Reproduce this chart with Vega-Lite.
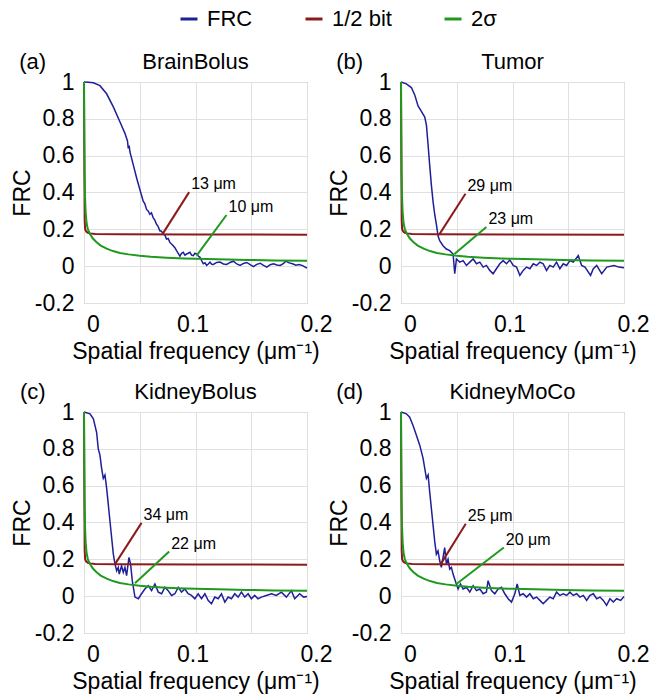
{
  "$schema": "https://vega.github.io/schema/vega-lite/v6.json",
  "padding": {"left": 10, "top": 8, "right": 0, "bottom": 0},
  "datasets": {
    "frc": [
      {"p":"a","s":"FRC","f":0,"v":1},{"p":"a","s":"FRC","f":0.004,"v":0.999},{"p":"a","s":"FRC","f":0.0084,"v":0.996},{"p":"a","s":"FRC","f":0.0143,"v":0.98},{"p":"a","s":"FRC","f":0.0203,"v":0.936},{"p":"a","s":"FRC","f":0.0263,"v":0.865},{"p":"a","s":"FRC","f":0.0322,"v":0.784},{"p":"a","s":"FRC","f":0.0367,"v":0.721},{"p":"a","s":"FRC","f":0.039,"v":0.68},{"p":"a","s":"FRC","f":0.0397,"v":0.64},{"p":"a","s":"FRC","f":0.0405,"v":0.655},{"p":"a","s":"FRC","f":0.0412,"v":0.62},{"p":"a","s":"FRC","f":0.0442,"v":0.55},{"p":"a","s":"FRC","f":0.0472,"v":0.479},{"p":"a","s":"FRC","f":0.0501,"v":0.416},{"p":"a","s":"FRC","f":0.0531,"v":0.353},{"p":"a","s":"FRC","f":0.0545,"v":0.34},{"p":"a","s":"FRC","f":0.0561,"v":0.308},{"p":"a","s":"FRC","f":0.0575,"v":0.3},{"p":"a","s":"FRC","f":0.0591,"v":0.282},{"p":"a","s":"FRC","f":0.0605,"v":0.29},{"p":"a","s":"FRC","f":0.062,"v":0.264},{"p":"a","s":"FRC","f":0.0635,"v":0.25},{"p":"a","s":"FRC","f":0.065,"v":0.228},{"p":"a","s":"FRC","f":0.0665,"v":0.215},{"p":"a","s":"FRC","f":0.068,"v":0.192},{"p":"a","s":"FRC","f":0.0695,"v":0.19},{"p":"a","s":"FRC","f":0.071,"v":0.174},{"p":"a","s":"FRC","f":0.0725,"v":0.17},{"p":"a","s":"FRC","f":0.074,"v":0.147},{"p":"a","s":"FRC","f":0.0755,"v":0.15},{"p":"a","s":"FRC","f":0.077,"v":0.129},{"p":"a","s":"FRC","f":0.0785,"v":0.12},{"p":"a","s":"FRC","f":0.08,"v":0.111},{"p":"a","s":"FRC","f":0.0815,"v":0.1},{"p":"a","s":"FRC","f":0.083,"v":0.084},{"p":"a","s":"FRC","f":0.0845,"v":0.07},{"p":"a","s":"FRC","f":0.086,"v":0.054},{"p":"a","s":"FRC","f":0.0875,"v":0.07},{"p":"a","s":"FRC","f":0.089,"v":0.075},{"p":"a","s":"FRC","f":0.0905,"v":0.06},{"p":"a","s":"FRC","f":0.092,"v":0.066},{"p":"a","s":"FRC","f":0.0935,"v":0.07},{"p":"a","s":"FRC","f":0.095,"v":0.075},{"p":"a","s":"FRC","f":0.0965,"v":0.06},{"p":"a","s":"FRC","f":0.098,"v":0.057},{"p":"a","s":"FRC","f":0.0995,"v":0.07},{"p":"a","s":"FRC","f":0.101,"v":0.066},{"p":"a","s":"FRC","f":0.1025,"v":0.055},{"p":"a","s":"FRC","f":0.104,"v":0.048},{"p":"a","s":"FRC","f":0.1055,"v":0.03},{"p":"a","s":"FRC","f":0.107,"v":0.013},{"p":"a","s":"FRC","f":0.1085,"v":0.018},{"p":"a","s":"FRC","f":0.11,"v":0.004},{"p":"a","s":"FRC","f":0.1115,"v":0.012},{"p":"a","s":"FRC","f":0.113,"v":0.022},{"p":"a","s":"FRC","f":0.1145,"v":0.01},{"p":"a","s":"FRC","f":0.116,"v":0.009},{"p":"a","s":"FRC","f":0.119,"v":0.02},{"p":"a","s":"FRC","f":0.122,"v":0.022},{"p":"a","s":"FRC","f":0.125,"v":0.012},{"p":"a","s":"FRC","f":0.128,"v":0.009},{"p":"a","s":"FRC","f":0.131,"v":0.02},{"p":"a","s":"FRC","f":0.134,"v":0.027},{"p":"a","s":"FRC","f":0.137,"v":0.012},{"p":"a","s":"FRC","f":0.14,"v":0.004},{"p":"a","s":"FRC","f":0.143,"v":0.015},{"p":"a","s":"FRC","f":0.146,"v":0.02},{"p":"a","s":"FRC","f":0.149,"v":0.008},{"p":"a","s":"FRC","f":0.152,"v":-0.002},{"p":"a","s":"FRC","f":0.155,"v":0.01},{"p":"a","s":"FRC","f":0.158,"v":0.016},{"p":"a","s":"FRC","f":0.161,"v":0.004},{"p":"a","s":"FRC","f":0.164,"v":-0.005},{"p":"a","s":"FRC","f":0.167,"v":0.008},{"p":"a","s":"FRC","f":0.17,"v":0.013},{"p":"a","s":"FRC","f":0.173,"v":0.006},{"p":"a","s":"FRC","f":0.176,"v":0.004},{"p":"a","s":"FRC","f":0.179,"v":0.015},{"p":"a","s":"FRC","f":0.181,"v":0.027},{"p":"a","s":"FRC","f":0.184,"v":0.018},{"p":"a","s":"FRC","f":0.187,"v":0.013},{"p":"a","s":"FRC","f":0.19,"v":0.005},{"p":"a","s":"FRC","f":0.193,"v":0.009},{"p":"a","s":"FRC","f":0.196,"v":0.003},{"p":"a","s":"FRC","f":0.2,"v":-0.011},

      {"p":"b","s":"FRC","f":0,"v":1},{"p":"b","s":"FRC","f":0.0048,"v":0.99},{"p":"b","s":"FRC","f":0.0093,"v":0.97},{"p":"b","s":"FRC","f":0.0123,"v":0.93},{"p":"b","s":"FRC","f":0.0153,"v":0.87},{"p":"b","s":"FRC","f":0.0183,"v":0.84},{"p":"b","s":"FRC","f":0.0213,"v":0.81},{"p":"b","s":"FRC","f":0.0228,"v":0.766},{"p":"b","s":"FRC","f":0.0243,"v":0.658},{"p":"b","s":"FRC","f":0.0257,"v":0.55},{"p":"b","s":"FRC","f":0.0272,"v":0.443},{"p":"b","s":"FRC","f":0.0287,"v":0.353},{"p":"b","s":"FRC","f":0.0302,"v":0.282},{"p":"b","s":"FRC","f":0.0317,"v":0.228},{"p":"b","s":"FRC","f":0.0332,"v":0.165},{"p":"b","s":"FRC","f":0.0347,"v":0.138},{"p":"b","s":"FRC","f":0.0377,"v":0.111},{"p":"b","s":"FRC","f":0.0407,"v":0.093},{"p":"b","s":"FRC","f":0.0437,"v":0.084},{"p":"b","s":"FRC","f":0.0467,"v":0.066},{"p":"b","s":"FRC","f":0.0482,"v":-0.041},{"p":"b","s":"FRC","f":0.0497,"v":0.039},{"p":"b","s":"FRC","f":0.0527,"v":0.022},{"p":"b","s":"FRC","f":0.0557,"v":0.03},{"p":"b","s":"FRC","f":0.0587,"v":0.004},{"p":"b","s":"FRC","f":0.0617,"v":0.022},{"p":"b","s":"FRC","f":0.0647,"v":0.039},{"p":"b","s":"FRC","f":0.0677,"v":0.013},{"p":"b","s":"FRC","f":0.0707,"v":0.022},{"p":"b","s":"FRC","f":0.0737,"v":-0.005},{"p":"b","s":"FRC","f":0.0766,"v":0.004},{"p":"b","s":"FRC","f":0.0796,"v":-0.023},{"p":"b","s":"FRC","f":0.0826,"v":-0.041},{"p":"b","s":"FRC","f":0.0856,"v":-0.014},{"p":"b","s":"FRC","f":0.0886,"v":0.013},{"p":"b","s":"FRC","f":0.0916,"v":0.03},{"p":"b","s":"FRC","f":0.0946,"v":0.013},{"p":"b","s":"FRC","f":0.0976,"v":0.034},{"p":"b","s":"FRC","f":0.1006,"v":0.004},{"p":"b","s":"FRC","f":0.1036,"v":-0.005},{"p":"b","s":"FRC","f":0.1066,"v":-0.05},{"p":"b","s":"FRC","f":0.1096,"v":-0.023},{"p":"b","s":"FRC","f":0.1126,"v":-0.005},{"p":"b","s":"FRC","f":0.1156,"v":-0.014},{"p":"b","s":"FRC","f":0.1186,"v":0.013},{"p":"b","s":"FRC","f":0.1216,"v":0.004},{"p":"b","s":"FRC","f":0.1246,"v":0.022},{"p":"b","s":"FRC","f":0.1275,"v":0.013},{"p":"b","s":"FRC","f":0.1305,"v":-0.023},{"p":"b","s":"FRC","f":0.1335,"v":0.004},{"p":"b","s":"FRC","f":0.1365,"v":-0.005},{"p":"b","s":"FRC","f":0.1395,"v":0.022},{"p":"b","s":"FRC","f":0.1425,"v":-0.014},{"p":"b","s":"FRC","f":0.1455,"v":0.013},{"p":"b","s":"FRC","f":0.1485,"v":0.004},{"p":"b","s":"FRC","f":0.1515,"v":0.03},{"p":"b","s":"FRC","f":0.1545,"v":0.022},{"p":"b","s":"FRC","f":0.159,"v":0.057},{"p":"b","s":"FRC","f":0.162,"v":0.004},{"p":"b","s":"FRC","f":0.165,"v":-0.005},{"p":"b","s":"FRC","f":0.17,"v":-0.05},{"p":"b","s":"FRC","f":0.1725,"v":-0.014},{"p":"b","s":"FRC","f":0.1755,"v":0.004},{"p":"b","s":"FRC","f":0.18,"v":-0.041},{"p":"b","s":"FRC","f":0.1845,"v":-0.005},{"p":"b","s":"FRC","f":0.191,"v":0.004},{"p":"b","s":"FRC","f":0.1955,"v":-0.005},{"p":"b","s":"FRC","f":0.2,"v":-0.009},

      {"p":"c","s":"FRC","f":0,"v":1},{"p":"c","s":"FRC","f":0.0054,"v":0.99},{"p":"c","s":"FRC","f":0.0084,"v":0.963},{"p":"c","s":"FRC","f":0.0113,"v":0.89},{"p":"c","s":"FRC","f":0.0128,"v":0.8},{"p":"c","s":"FRC","f":0.0143,"v":0.766},{"p":"c","s":"FRC","f":0.0158,"v":0.694},{"p":"c","s":"FRC","f":0.0173,"v":0.64},{"p":"c","s":"FRC","f":0.0188,"v":0.658},{"p":"c","s":"FRC","f":0.0203,"v":0.587},{"p":"c","s":"FRC","f":0.0218,"v":0.497},{"p":"c","s":"FRC","f":0.0233,"v":0.407},{"p":"c","s":"FRC","f":0.0248,"v":0.317},{"p":"c","s":"FRC","f":0.0263,"v":0.228},{"p":"c","s":"FRC","f":0.0278,"v":0.174},{"p":"c","s":"FRC","f":0.0293,"v":0.138},{"p":"c","s":"FRC","f":0.0307,"v":0.156},{"p":"c","s":"FRC","f":0.0316,"v":0.12},{"p":"c","s":"FRC","f":0.0337,"v":0.165},{"p":"c","s":"FRC","f":0.0352,"v":0.129},{"p":"c","s":"FRC","f":0.0367,"v":0.156},{"p":"c","s":"FRC","f":0.0382,"v":0.111},{"p":"c","s":"FRC","f":0.0403,"v":0.21},{"p":"c","s":"FRC","f":0.0418,"v":0.174},{"p":"c","s":"FRC","f":0.0433,"v":0.084},{"p":"c","s":"FRC","f":0.0457,"v":-0.005},{"p":"c","s":"FRC","f":0.0487,"v":-0.014},{"p":"c","s":"FRC","f":0.0516,"v":0.013},{"p":"c","s":"FRC","f":0.0546,"v":0.039},{"p":"c","s":"FRC","f":0.0576,"v":0.057},{"p":"c","s":"FRC","f":0.0606,"v":0.03},{"p":"c","s":"FRC","f":0.0636,"v":0.066},{"p":"c","s":"FRC","f":0.0666,"v":0.022},{"p":"c","s":"FRC","f":0.0696,"v":0.013},{"p":"c","s":"FRC","f":0.0725,"v":0.048},{"p":"c","s":"FRC","f":0.0755,"v":0.03},{"p":"c","s":"FRC","f":0.0785,"v":0.004},{"p":"c","s":"FRC","f":0.0815,"v":0.013},{"p":"c","s":"FRC","f":0.0845,"v":0.048},{"p":"c","s":"FRC","f":0.0875,"v":0.022},{"p":"c","s":"FRC","f":0.0904,"v":0.039},{"p":"c","s":"FRC","f":0.0934,"v":0.013},{"p":"c","s":"FRC","f":0.0964,"v":0.004},{"p":"c","s":"FRC","f":0.0994,"v":-0.014},{"p":"c","s":"FRC","f":0.1024,"v":0.013},{"p":"c","s":"FRC","f":0.1054,"v":-0.014},{"p":"c","s":"FRC","f":0.1084,"v":0.013},{"p":"c","s":"FRC","f":0.1113,"v":-0.023},{"p":"c","s":"FRC","f":0.1143,"v":-0.041},{"p":"c","s":"FRC","f":0.1173,"v":-0.005},{"p":"c","s":"FRC","f":0.1203,"v":-0.014},{"p":"c","s":"FRC","f":0.1233,"v":0.013},{"p":"c","s":"FRC","f":0.1263,"v":-0.032},{"p":"c","s":"FRC","f":0.1293,"v":-0.005},{"p":"c","s":"FRC","f":0.1322,"v":-0.014},{"p":"c","s":"FRC","f":0.1352,"v":0.013},{"p":"c","s":"FRC","f":0.1382,"v":-0.005},{"p":"c","s":"FRC","f":0.1412,"v":0.022},{"p":"c","s":"FRC","f":0.1442,"v":-0.005},{"p":"c","s":"FRC","f":0.1472,"v":0.013},{"p":"c","s":"FRC","f":0.1501,"v":-0.014},{"p":"c","s":"FRC","f":0.1531,"v":0.004},{"p":"c","s":"FRC","f":0.1561,"v":-0.014},{"p":"c","s":"FRC","f":0.1591,"v":-0.005},{"p":"c","s":"FRC","f":0.1636,"v":0.004},{"p":"c","s":"FRC","f":0.1681,"v":0.013},{"p":"c","s":"FRC","f":0.1725,"v":0.004},{"p":"c","s":"FRC","f":0.177,"v":0.022},{"p":"c","s":"FRC","f":0.1815,"v":-0.005},{"p":"c","s":"FRC","f":0.186,"v":0.03},{"p":"c","s":"FRC","f":0.189,"v":-0.014},{"p":"c","s":"FRC","f":0.1934,"v":0.013},{"p":"c","s":"FRC","f":0.197,"v":-0.005},{"p":"c","s":"FRC","f":0.2,"v":-0.002},

      {"p":"d","s":"FRC","f":0,"v":1},{"p":"d","s":"FRC","f":0.0048,"v":0.99},{"p":"d","s":"FRC","f":0.0078,"v":0.972},{"p":"d","s":"FRC","f":0.0108,"v":0.927},{"p":"d","s":"FRC","f":0.0138,"v":0.874},{"p":"d","s":"FRC","f":0.0168,"v":0.82},{"p":"d","s":"FRC","f":0.0198,"v":0.748},{"p":"d","s":"FRC","f":0.0228,"v":0.64},{"p":"d","s":"FRC","f":0.0243,"v":0.658},{"p":"d","s":"FRC","f":0.0257,"v":0.569},{"p":"d","s":"FRC","f":0.0272,"v":0.479},{"p":"d","s":"FRC","f":0.0287,"v":0.389},{"p":"d","s":"FRC","f":0.0302,"v":0.3},{"p":"d","s":"FRC","f":0.0317,"v":0.228},{"p":"d","s":"FRC","f":0.0332,"v":0.246},{"p":"d","s":"FRC","f":0.0347,"v":0.192},{"p":"d","s":"FRC","f":0.0362,"v":0.156},{"p":"d","s":"FRC","f":0.0377,"v":0.21},{"p":"d","s":"FRC","f":0.0392,"v":0.264},{"p":"d","s":"FRC","f":0.0407,"v":0.174},{"p":"d","s":"FRC","f":0.0422,"v":0.2},{"p":"d","s":"FRC","f":0.0437,"v":0.147},{"p":"d","s":"FRC","f":0.0452,"v":0.156},{"p":"d","s":"FRC","f":0.0467,"v":0.12},{"p":"d","s":"FRC","f":0.0491,"v":0.075},{"p":"d","s":"FRC","f":0.0512,"v":0.039},{"p":"d","s":"FRC","f":0.0533,"v":0.066},{"p":"d","s":"FRC","f":0.0557,"v":0.039},{"p":"d","s":"FRC","f":0.0587,"v":0.048},{"p":"d","s":"FRC","f":0.0617,"v":0.022},{"p":"d","s":"FRC","f":0.0647,"v":0.057},{"p":"d","s":"FRC","f":0.0677,"v":0.03},{"p":"d","s":"FRC","f":0.0707,"v":0.039},{"p":"d","s":"FRC","f":0.0737,"v":0.013},{"p":"d","s":"FRC","f":0.0766,"v":0.022},{"p":"d","s":"FRC","f":0.0781,"v":0.084},{"p":"d","s":"FRC","f":0.0811,"v":0.03},{"p":"d","s":"FRC","f":0.0841,"v":0.013},{"p":"d","s":"FRC","f":0.0871,"v":0.039},{"p":"d","s":"FRC","f":0.0901,"v":0.048},{"p":"d","s":"FRC","f":0.0931,"v":0.013},{"p":"d","s":"FRC","f":0.0961,"v":-0.014},{"p":"d","s":"FRC","f":0.0991,"v":-0.032},{"p":"d","s":"FRC","f":0.1021,"v":0.013},{"p":"d","s":"FRC","f":0.1042,"v":0.066},{"p":"d","s":"FRC","f":0.1066,"v":0.004},{"p":"d","s":"FRC","f":0.1096,"v":0.013},{"p":"d","s":"FRC","f":0.1126,"v":-0.005},{"p":"d","s":"FRC","f":0.1156,"v":0.013},{"p":"d","s":"FRC","f":0.1186,"v":-0.014},{"p":"d","s":"FRC","f":0.1216,"v":-0.005},{"p":"d","s":"FRC","f":0.1246,"v":-0.023},{"p":"d","s":"FRC","f":0.1275,"v":-0.041},{"p":"d","s":"FRC","f":0.1305,"v":-0.023},{"p":"d","s":"FRC","f":0.1335,"v":-0.005},{"p":"d","s":"FRC","f":0.1365,"v":-0.014},{"p":"d","s":"FRC","f":0.1395,"v":0.022},{"p":"d","s":"FRC","f":0.1425,"v":0.004},{"p":"d","s":"FRC","f":0.1455,"v":0.013},{"p":"d","s":"FRC","f":0.1485,"v":0.004},{"p":"d","s":"FRC","f":0.1515,"v":0.022},{"p":"d","s":"FRC","f":0.1545,"v":0.004},{"p":"d","s":"FRC","f":0.1575,"v":0.013},{"p":"d","s":"FRC","f":0.1605,"v":-0.005},{"p":"d","s":"FRC","f":0.1635,"v":0.004},{"p":"d","s":"FRC","f":0.1665,"v":-0.023},{"p":"d","s":"FRC","f":0.1695,"v":0.004},{"p":"d","s":"FRC","f":0.1725,"v":0.013},{"p":"d","s":"FRC","f":0.1755,"v":-0.014},{"p":"d","s":"FRC","f":0.1785,"v":-0.005},{"p":"d","s":"FRC","f":0.1814,"v":-0.023},{"p":"d","s":"FRC","f":0.1844,"v":-0.05},{"p":"d","s":"FRC","f":0.1874,"v":-0.014},{"p":"d","s":"FRC","f":0.1904,"v":-0.032},{"p":"d","s":"FRC","f":0.1934,"v":-0.014},{"p":"d","s":"FRC","f":0.197,"v":-0.023},{"p":"d","s":"FRC","f":0.2,"v":-0.002}
    ],
    "thr": [
      {"s":"1/2 bit","f":0,"v":1},{"s":"1/2 bit","f":0.0003,"v":0.6},{"s":"1/2 bit","f":0.0006,"v":0.25},{"s":"1/2 bit","f":0.001,"v":0.2},{"s":"1/2 bit","f":0.002,"v":0.188},{"s":"1/2 bit","f":0.0035,"v":0.181},{"s":"1/2 bit","f":0.0054,"v":0.178},{"s":"1/2 bit","f":0.01,"v":0.175},{"s":"1/2 bit","f":0.03,"v":0.173},{"s":"1/2 bit","f":0.1,"v":0.172},{"s":"1/2 bit","f":0.2,"v":0.171},
      {"s":"2σ","f":0,"v":1},{"s":"2σ","f":0.0002,"v":0.75},{"s":"2σ","f":0.0005,"v":0.52},{"s":"2σ","f":0.0009,"v":0.38},{"s":"2σ","f":0.0015,"v":0.29},{"s":"2σ","f":0.0024,"v":0.23},{"s":"2σ","f":0.0035,"v":0.2},{"s":"2σ","f":0.0054,"v":0.175},{"s":"2σ","f":0.008,"v":0.15},{"s":"2σ","f":0.0113,"v":0.13},{"s":"2σ","f":0.015,"v":0.112},{"s":"2σ","f":0.0203,"v":0.095},{"s":"2σ","f":0.026,"v":0.082},{"s":"2σ","f":0.0322,"v":0.072},{"s":"2σ","f":0.04,"v":0.064},{"s":"2σ","f":0.05,"v":0.056},{"s":"2σ","f":0.06,"v":0.051},{"s":"2σ","f":0.074,"v":0.046},{"s":"2σ","f":0.09,"v":0.042},{"s":"2σ","f":0.1,"v":0.04},{"s":"2σ","f":0.12,"v":0.037},{"s":"2σ","f":0.146,"v":0.034},{"s":"2σ","f":0.17,"v":0.031},{"s":"2σ","f":0.2,"v":0.029}
    ],
    "ann": [
      {"p":"a","s":"1/2 bit","x1":0.0704,"y1":0.174,"x2":0.0943,"y2":0.402,"t":"13 μm"},
      {"p":"a","s":"2σ","x1":0.101,"y1":0.057,"x2":0.1278,"y2":0.278,"t":"10 μm"},
      {"p":"b","s":"1/2 bit","x1":0.0341,"y1":0.17,"x2":0.0578,"y2":0.393,"t":"29 μm"},
      {"p":"b","s":"2σ","x1":0.0479,"y1":0.066,"x2":0.0766,"y2":0.213,"t":"23 μm"},
      {"p":"c","s":"1/2 bit","x1":0.0278,"y1":0.174,"x2":0.0516,"y2":0.398,"t":"34 μm"},
      {"p":"c","s":"2σ","x1":0.0457,"y1":0.07,"x2":0.0764,"y2":0.242,"t":"22 μm"},
      {"p":"d","s":"1/2 bit","x1":0.0356,"y1":0.174,"x2":0.0581,"y2":0.393,"t":"25 μm"},
      {"p":"d","s":"2σ","x1":0.0497,"y1":0.066,"x2":0.0922,"y2":0.264,"t":"20 μm"}
    ],
    "lab": [
      {"p":"a","x":-0.046,"y":1.072,"t":"(a)"},
      {"p":"b","x":-0.046,"y":1.072,"t":"(b)"},
      {"p":"c","x":-0.046,"y":1.072,"t":"(c)"},
      {"p":"d","x":-0.046,"y":1.072,"t":"(d)"},
      {"p":"a","x":0.1,"y":1.072,"t":"BrainBolus"},
      {"p":"b","x":0.1,"y":1.072,"t":"Tumor"},
      {"p":"c","x":0.1,"y":1.072,"t":"KidneyBolus"},
      {"p":"d","x":0.1,"y":1.072,"t":"KidneyMoCo"}
    ]
  },
  "columns": 2,
  "spacing": {"row": 109, "column": 94},
  "bounds": "flush",
  "concat": [
    {
      "width": 223, "height": 221,
      "layer": [
        {"data": {"name": "frc"}, "transform": [{"filter": "datum.p == 'a'"}], "mark": {"type": "line", "strokeWidth": 1.5},
         "encoding": {"x": {"field": "f", "type": "quantitative", "scale": {"domain": [0, 0.2], "nice": false}, "axis": {"values": [0, 0.05, 0.1, 0.15, 0.2], "labelExpr": "datum.value == 0.05 || datum.value == 0.15 ? '' : format(datum.value, '~g')", "title": "Spatial frequency (μm⁻¹)", "labelOverlap": false, "labelOffset": {"condition": {"test": "datum.value == 0.1", "value": -3}, "value": 9}}},
                      "y": {"field": "v", "type": "quantitative", "scale": {"domain": [-0.2, 1], "nice": false}, "axis": {"tickCount": 7, "grid": true, "labelOverlap": false, "labelSeparation": 0, "labelExpr": "datum.value < 0 ? '-' + format(-datum.value, '~g') : format(datum.value, '~g')", "title": "FRC"}},
                      "color": {"field": "s", "type": "nominal", "scale": {"domain": ["FRC", "1/2 bit", "2σ"], "range": ["#1f1f99", "#8c1a1a", "#1f9a1f"]}, "legend": {"orient": "none", "legendX": 94, "legendY": -74, "direction": "horizontal", "title": null, "symbolType": "stroke", "symbolStrokeWidth": 3, "symbolSize": 289, "labelFontSize": 22, "columnPadding": 46, "labelOffset": 7}}}},
        {"data": {"name": "thr"}, "mark": {"type": "line", "strokeWidth": 2},
         "encoding": {"x": {"field": "f", "type": "quantitative", "scale": {"domain": [0, 0.2]}}, "y": {"field": "v", "type": "quantitative", "scale": {"domain": [-0.2, 1]}}, "color": {"field": "s", "type": "nominal"}}},
        {"data": {"name": "ann"}, "transform": [{"filter": "datum.p == 'a'"}], "mark": {"type": "rule", "strokeWidth": 2},
         "encoding": {"x": {"field": "x1", "type": "quantitative", "scale": {"domain": [0, 0.2]}}, "y": {"field": "y1", "type": "quantitative", "scale": {"domain": [-0.2, 1]}}, "x2": {"field": "x2"}, "y2": {"field": "y2"}, "color": {"field": "s", "type": "nominal"}}},
        {"data": {"name": "ann"}, "transform": [{"filter": "datum.p == 'a'"}], "mark": {"type": "text", "align": "left", "baseline": "alphabetic", "dx": 2, "dy": -3, "fontSize": 16, "color": "#000"},
         "encoding": {"x": {"field": "x2", "type": "quantitative", "scale": {"domain": [0, 0.2]}}, "y": {"field": "y2", "type": "quantitative", "scale": {"domain": [-0.2, 1]}}, "text": {"field": "t"}}},
        {"data": {"name": "lab"}, "transform": [{"filter": "datum.p == 'a'"}], "mark": {"type": "text", "align": "center", "baseline": "alphabetic", "fontSize": 22, "color": "#000"},
         "encoding": {"x": {"field": "x", "type": "quantitative", "scale": {"domain": [0, 0.2]}}, "y": {"field": "y", "type": "quantitative", "scale": {"domain": [-0.2, 1]}}, "text": {"field": "t"}}}
      ]
    },
    {
      "width": 223, "height": 221,
      "layer": [
        {"data": {"name": "frc"}, "transform": [{"filter": "datum.p == 'b'"}], "mark": {"type": "line", "strokeWidth": 1.5},
         "encoding": {"x": {"field": "f", "type": "quantitative", "scale": {"domain": [0, 0.2], "nice": false}, "axis": {"values": [0, 0.05, 0.1, 0.15, 0.2], "labelExpr": "datum.value == 0.05 || datum.value == 0.15 ? '' : format(datum.value, '~g')", "title": "Spatial frequency (μm⁻¹)", "labelOverlap": false, "labelOffset": {"condition": {"test": "datum.value == 0.1", "value": -3}, "value": 9}}},
                      "y": {"field": "v", "type": "quantitative", "scale": {"domain": [-0.2, 1], "nice": false}, "axis": {"tickCount": 7, "grid": true, "labelOverlap": false, "labelSeparation": 0, "labelExpr": "datum.value < 0 ? '-' + format(-datum.value, '~g') : format(datum.value, '~g')", "title": "FRC"}},
                      "color": {"field": "s", "type": "nominal"}}},
        {"data": {"name": "thr"}, "mark": {"type": "line", "strokeWidth": 2},
         "encoding": {"x": {"field": "f", "type": "quantitative", "scale": {"domain": [0, 0.2]}}, "y": {"field": "v", "type": "quantitative", "scale": {"domain": [-0.2, 1]}}, "color": {"field": "s", "type": "nominal"}}},
        {"data": {"name": "ann"}, "transform": [{"filter": "datum.p == 'b'"}], "mark": {"type": "rule", "strokeWidth": 2},
         "encoding": {"x": {"field": "x1", "type": "quantitative", "scale": {"domain": [0, 0.2]}}, "y": {"field": "y1", "type": "quantitative", "scale": {"domain": [-0.2, 1]}}, "x2": {"field": "x2"}, "y2": {"field": "y2"}, "color": {"field": "s", "type": "nominal"}}},
        {"data": {"name": "ann"}, "transform": [{"filter": "datum.p == 'b'"}], "mark": {"type": "text", "align": "left", "baseline": "alphabetic", "dx": 2, "dy": -3, "fontSize": 16, "color": "#000"},
         "encoding": {"x": {"field": "x2", "type": "quantitative", "scale": {"domain": [0, 0.2]}}, "y": {"field": "y2", "type": "quantitative", "scale": {"domain": [-0.2, 1]}}, "text": {"field": "t"}}},
        {"data": {"name": "lab"}, "transform": [{"filter": "datum.p == 'b'"}], "mark": {"type": "text", "align": "center", "baseline": "alphabetic", "fontSize": 22, "color": "#000"},
         "encoding": {"x": {"field": "x", "type": "quantitative", "scale": {"domain": [0, 0.2]}}, "y": {"field": "y", "type": "quantitative", "scale": {"domain": [-0.2, 1]}}, "text": {"field": "t"}}}
      ]
    },
    {
      "width": 223, "height": 221,
      "layer": [
        {"data": {"name": "frc"}, "transform": [{"filter": "datum.p == 'c'"}], "mark": {"type": "line", "strokeWidth": 1.5},
         "encoding": {"x": {"field": "f", "type": "quantitative", "scale": {"domain": [0, 0.2], "nice": false}, "axis": {"values": [0, 0.05, 0.1, 0.15, 0.2], "labelExpr": "datum.value == 0.05 || datum.value == 0.15 ? '' : format(datum.value, '~g')", "title": "Spatial frequency (μm⁻¹)", "labelOverlap": false, "labelOffset": {"condition": {"test": "datum.value == 0.1", "value": -3}, "value": 9}}},
                      "y": {"field": "v", "type": "quantitative", "scale": {"domain": [-0.2, 1], "nice": false}, "axis": {"tickCount": 7, "grid": true, "labelOverlap": false, "labelSeparation": 0, "labelExpr": "datum.value < 0 ? '-' + format(-datum.value, '~g') : format(datum.value, '~g')", "title": "FRC"}},
                      "color": {"field": "s", "type": "nominal"}}},
        {"data": {"name": "thr"}, "mark": {"type": "line", "strokeWidth": 2},
         "encoding": {"x": {"field": "f", "type": "quantitative", "scale": {"domain": [0, 0.2]}}, "y": {"field": "v", "type": "quantitative", "scale": {"domain": [-0.2, 1]}}, "color": {"field": "s", "type": "nominal"}}},
        {"data": {"name": "ann"}, "transform": [{"filter": "datum.p == 'c'"}], "mark": {"type": "rule", "strokeWidth": 2},
         "encoding": {"x": {"field": "x1", "type": "quantitative", "scale": {"domain": [0, 0.2]}}, "y": {"field": "y1", "type": "quantitative", "scale": {"domain": [-0.2, 1]}}, "x2": {"field": "x2"}, "y2": {"field": "y2"}, "color": {"field": "s", "type": "nominal"}}},
        {"data": {"name": "ann"}, "transform": [{"filter": "datum.p == 'c'"}], "mark": {"type": "text", "align": "left", "baseline": "alphabetic", "dx": 2, "dy": -3, "fontSize": 16, "color": "#000"},
         "encoding": {"x": {"field": "x2", "type": "quantitative", "scale": {"domain": [0, 0.2]}}, "y": {"field": "y2", "type": "quantitative", "scale": {"domain": [-0.2, 1]}}, "text": {"field": "t"}}},
        {"data": {"name": "lab"}, "transform": [{"filter": "datum.p == 'c'"}], "mark": {"type": "text", "align": "center", "baseline": "alphabetic", "fontSize": 22, "color": "#000"},
         "encoding": {"x": {"field": "x", "type": "quantitative", "scale": {"domain": [0, 0.2]}}, "y": {"field": "y", "type": "quantitative", "scale": {"domain": [-0.2, 1]}}, "text": {"field": "t"}}}
      ]
    },
    {
      "width": 223, "height": 221,
      "layer": [
        {"data": {"name": "frc"}, "transform": [{"filter": "datum.p == 'd'"}], "mark": {"type": "line", "strokeWidth": 1.5},
         "encoding": {"x": {"field": "f", "type": "quantitative", "scale": {"domain": [0, 0.2], "nice": false}, "axis": {"values": [0, 0.05, 0.1, 0.15, 0.2], "labelExpr": "datum.value == 0.05 || datum.value == 0.15 ? '' : format(datum.value, '~g')", "title": "Spatial frequency (μm⁻¹)", "labelOverlap": false, "labelOffset": {"condition": {"test": "datum.value == 0.1", "value": -3}, "value": 9}}},
                      "y": {"field": "v", "type": "quantitative", "scale": {"domain": [-0.2, 1], "nice": false}, "axis": {"tickCount": 7, "grid": true, "labelOverlap": false, "labelSeparation": 0, "labelExpr": "datum.value < 0 ? '-' + format(-datum.value, '~g') : format(datum.value, '~g')", "title": "FRC"}},
                      "color": {"field": "s", "type": "nominal"}}},
        {"data": {"name": "thr"}, "mark": {"type": "line", "strokeWidth": 2},
         "encoding": {"x": {"field": "f", "type": "quantitative", "scale": {"domain": [0, 0.2]}}, "y": {"field": "v", "type": "quantitative", "scale": {"domain": [-0.2, 1]}}, "color": {"field": "s", "type": "nominal"}}},
        {"data": {"name": "ann"}, "transform": [{"filter": "datum.p == 'd'"}], "mark": {"type": "rule", "strokeWidth": 2},
         "encoding": {"x": {"field": "x1", "type": "quantitative", "scale": {"domain": [0, 0.2]}}, "y": {"field": "y1", "type": "quantitative", "scale": {"domain": [-0.2, 1]}}, "x2": {"field": "x2"}, "y2": {"field": "y2"}, "color": {"field": "s", "type": "nominal"}}},
        {"data": {"name": "ann"}, "transform": [{"filter": "datum.p == 'd'"}], "mark": {"type": "text", "align": "left", "baseline": "alphabetic", "dx": 2, "dy": -3, "fontSize": 16, "color": "#000"},
         "encoding": {"x": {"field": "x2", "type": "quantitative", "scale": {"domain": [0, 0.2]}}, "y": {"field": "y2", "type": "quantitative", "scale": {"domain": [-0.2, 1]}}, "text": {"field": "t"}}},
        {"data": {"name": "lab"}, "transform": [{"filter": "datum.p == 'd'"}], "mark": {"type": "text", "align": "center", "baseline": "alphabetic", "fontSize": 22, "color": "#000"},
         "encoding": {"x": {"field": "x", "type": "quantitative", "scale": {"domain": [0, 0.2]}}, "y": {"field": "y", "type": "quantitative", "scale": {"domain": [-0.2, 1]}}, "text": {"field": "t"}}}
      ]
    }
  ],
  "config": {
    "font": "Liberation Sans",
    "view": {"stroke": "#a6a6a6", "strokeWidth": 1},
    "axis": {"domain": false, "ticks": false, "gridColor": "#e0e0e0", "gridWidth": 1, "labelFontSize": 23, "titleFontSize": 23, "titleFontWeight": "normal", "labelColor": "#000", "titleColor": "#000", "labelPadding": 10, "labelFlush": false, "labelOverlap": false},
    "axisY": {"titlePadding": 0},
    "axisX": {"titlePadding": 4},
    "legend": {"labelColor": "#000", "labelFont": "Liberation Sans"}
  }
}
